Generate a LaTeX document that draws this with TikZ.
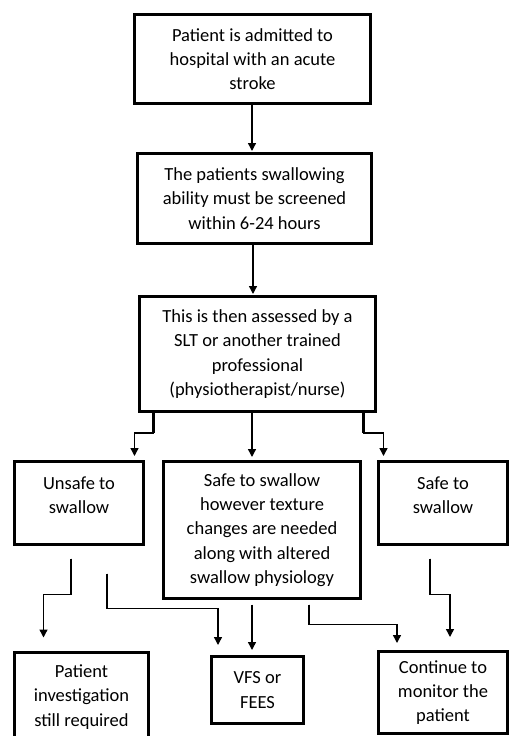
\documentclass[tikz,border=0pt]{standalone}
\usepackage{fontspec}
\setmainfont{Carlito}
\usetikzlibrary{arrows.meta}

\begin{document}
\begin{tikzpicture}[x=1pt, y=-1pt, font=\fontsize{18.5}{24.3}\selectfont,
  box/.style={draw, line width=3pt, align=center, inner sep=0pt},
  link/.style={line width=1.4pt, -{Triangle[length=8pt, width=8pt]}},
  stub/.style={line width=2.6pt}]
  \useasboundingbox (0,0) rectangle (509,736);
  \node[box, minimum width=236pt, minimum height=89pt] (admit) at (252.5,59) {Patient is admitted to\\ hospital with an acute\\ stroke};
  \node[box, minimum width=234pt, minimum height=90pt] (screen) at (254.5,198.5) {The patients swallowing\\ ability must be screened\\ within 6-24 hours};
  \node[box, minimum width=236pt, minimum height=115pt] (assess) at (257.5,354) {This is then assessed by a\\ SLT or another trained\\ professional\\ (physiotherapist/nurse)};
  \node[box, minimum width=129pt, minimum height=83pt] (unsafe) at (79,503) {Unsafe to\\ swallow\\[-8pt]};
  \node[box, minimum width=197pt, minimum height=137pt] (mid) at (262,530) {Safe to swallow\\ however texture\\ changes are needed\\ along with altered\\ swallow physiology};
  \node[box, minimum width=129pt, minimum height=83pt] (safe) at (443,503) {Safe to\\ swallow\\[-8pt]};
  \node[box, minimum width=134pt, minimum height=90pt] (inv) at (81.5,697) {Patient\\ investigation\\ still required};
  \node[box, minimum width=92pt, minimum height=67pt] (vfs) at (257.5,690) {VFS or\\ FEES};
  \node[box, minimum width=129pt, minimum height=82pt] (cont) at (443,692.5) {Continue to\\ monitor the\\ patient};
  \coordinate (aL) at ([xshift=15.5pt]assess.south west);
  \coordinate (aR) at ([xshift=-13.5pt]assess.south east);
  \coordinate (uL) at ([shift={(-8pt,-12.5pt)}]unsafe.south);
  \coordinate (uR) at ([shift={(28pt,-27.5pt)}]unsafe.south);
  \coordinate (mR) at ([shift={(47pt,-4.5pt)}]mid.south);
  \coordinate (sL) at ([shift={(-13pt,-12.5pt)}]safe.south);
  \draw[link, shorten >=1pt] ([xshift=-0.5pt]admit.south) -- ([xshift=-2.5pt]screen.north);
  \draw[link, shorten >=1pt] ([xshift=-1.5pt]screen.south) -- ([xshift=-4.5pt]assess.north);
  \draw[link, shorten >=4pt] (aL) -- ++(0,20) -| ([xshift=-10.5pt]unsafe.north east);
  \draw[link, shorten >=3pt] ([xshift=-5.5pt]assess.south) -- ([xshift=-10pt]mid.north);
  \draw[link, shorten >=4pt] (aR) -- ++(0,20) -| ([xshift=6.5pt]safe.north west);
  \draw[link, shorten >=13pt] (uL) -- ++(0,36) -| ([xshift=-38pt]inv.north);
  \draw[link, shorten >=10pt] (uR) -- ++(0,35) -| ([xshift=-39.5pt]vfs.north);
  \draw[link, shorten >=5pt] ([shift={(-10pt,-4.5pt)}]mid.south) -- ([xshift=-5.5pt]vfs.north);
  \draw[link, shorten >=7pt] (mR) -- ++(0,20) -| ([xshift=-46pt]cont.north);
  \draw[link, shorten >=13pt] (sL) -- ++(0,36) -| ([xshift=7pt]cont.north);
  \draw[stub] (aL) -- ++(0,20) (aR) -- ++(0,20) (uL) -- ++(0,36) (uR) -- ++(0,35) (mR) -- ++(0,20) (sL) -- ++(0,36);
\end{tikzpicture}
\end{document}
